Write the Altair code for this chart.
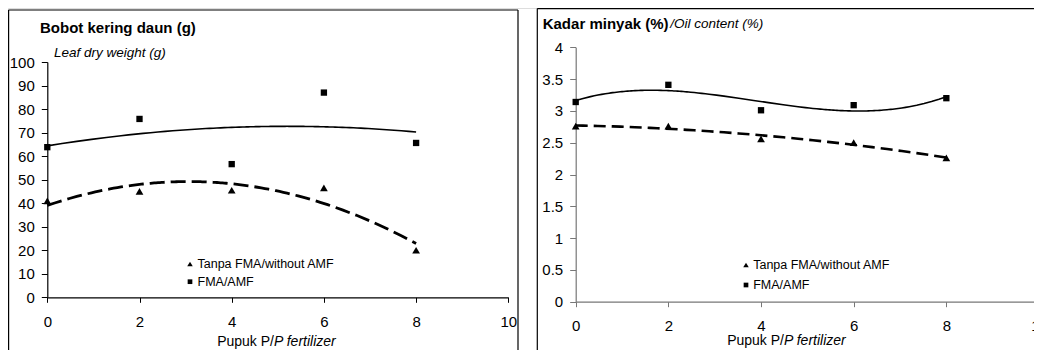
import altair as alt
import pandas as pd

FONT = "Liberation Sans"

# ---- data ----
dose = [0, 2, 4, 6, 8]
leaf_no_amf = [41.0, 45.0, 45.5, 46.5, 20.0]
leaf_amf = [63.8, 75.8, 56.6, 87.0, 65.6]
oil_no_amf = [2.76, 2.76, 2.56, 2.50, 2.26]
oil_amf = [3.14, 3.41, 3.01, 3.09, 3.20]

x_ticks = [0, 2, 4, 6, 8, 10]
leaf_ticks = [0, 10, 20, 30, 40, 50, 60, 70, 80, 90, 100]
oil_ticks = [0, 0.5, 1, 1.5, 2, 2.5, 3, 3.5, 4]

lab_no = "Tanpa FMA/without AMF"
lab_amf = "FMA/AMF"

leaf_df = pd.DataFrame({"x": dose * 2, "y": leaf_no_amf + leaf_amf,
                        "s": ["no"] * 5 + ["amf"] * 5})
oil_df = pd.DataFrame({"x": dose * 2, "y": oil_no_amf + oil_amf,
                       "s": ["no"] * 5 + ["amf"] * 5})
one = alt.Data(values=[{"a": 1}])

CW, CH = 1026, 342  # whole canvas (page minus its 8px margin)


def text(t, x, y, size, weight="normal", style="normal", align="left"):
    return alt.Chart(one).mark_text(text=t, font=FONT, fontSize=size, fontWeight=weight,
                                    fontStyle=style, align=align, baseline="middle",
                                    color="black").encode(x=alt.value(x), y=alt.value(y))


def vrule(x, y1, y2, color="black"):
    return alt.Chart(one).mark_rule(color=color, strokeWidth=1.2).encode(
        x=alt.value(x), y=alt.value(y1), y2=alt.value(y2))


def hrule(x1, x2, y, color="black"):
    return alt.Chart(one).mark_rule(color=color, strokeWidth=1.2).encode(
        x=alt.value(x1), x2=alt.value(x2), y=alt.value(y))


def sym(shape, x, y, size):
    return alt.Chart(one).mark_point(shape=shape, filled=True, size=size, color="black",
                                     opacity=1).encode(x=alt.value(x), y=alt.value(y))


def panel(df, xrange, ydom, yrange, yvals, fmt, axcolor, order_amf, dash, dwidth):
    xax = alt.Axis(values=x_ticks, grid=False, domainColor=axcolor, tickColor=axcolor,
                   labelColor="black", labelFont=FONT, labelFontSize=15, tickSize=5,
                   labelPadding=12, title=None, domainWidth=1.2, labelFlush=False,
                   orient="bottom", offset=yrange[0] - CH, labelOverlap=False)
    yax = alt.Axis(values=yvals, grid=False, domainColor=axcolor, tickColor=axcolor,
                   labelColor="black", labelFont=FONT, labelFontSize=15, tickSize=6,
                   labelPadding=7, title=None, format=fmt, domainWidth=1.2,
                   orient="left", offset=-xrange[0], labelOverlap=False)
    xs = alt.X("x:Q", scale=alt.Scale(domain=[0, 10], range=xrange, nice=False), axis=xax)
    ys = alt.Y("y:Q", scale=alt.Scale(domain=ydom, range=yrange, nice=False), axis=yax)
    base = alt.Chart(df)
    pts_no = base.transform_filter(alt.datum.s == "no").mark_point(
        shape="triangle-up", filled=True, size=60, color="black", opacity=1).encode(x=xs, y=ys)
    pts_amf = base.transform_filter(alt.datum.s == "amf").mark_point(
        shape="square", filled=True, size=40, color="black", opacity=1).encode(x=xs, y=ys)
    fit_no = base.transform_filter(alt.datum.s == "no").transform_regression(
        "x", "y", method="poly", order=2, extent=[0, 8]).mark_line(
        color="black", strokeWidth=dwidth, strokeDash=dash).encode(x=xs, y=ys)
    fit_amf = base.transform_filter(alt.datum.s == "amf").transform_regression(
        "x", "y", method="poly", order=order_amf, extent=[0, 8]).mark_line(
        color="black", strokeWidth=1.6).encode(x=xs, y=ys)
    return alt.layer(fit_no, fit_amf, pts_no, pts_amf)


# ---- left panel: leaf dry weight ----
left = panel(leaf_df, [39.3, 500.3], [0, 100], [289.3, 54], leaf_ticks, "d",
             "black", 2, [15, 6], 2.8)
left_deco = [
    vrule(0.6, 2, CH), hrule(0.6, 510, 2), vrule(510, 2, CH),
    text("Bobot kering daun (g)", 32, 19.5, 15, weight="bold"),
    text("Leaf dry weight (g)", 46, 45, 13.5, style="italic"),
    sym("triangle-up", 182, 256, 30), sym("square", 182, 273.7, 22),
    text(lab_no, 189.5, 256, 12.5), text(lab_amf, 189.5, 273.7, 12.5),
    text("Pupuk P/", 266, 333.5, 14, align="right"),
    text("P fertilizer", 266, 333.5, 14, style="italic"),
]

# ---- right panel: oil content ----
right = panel(oil_df, [567.7, 1031], [0, 4], [293.7, 39.3], oil_ticks, "~g",
              "#777777", 3, [12, 6], 2.6)
right_deco = [
    vrule(529.3, 0.6, CH), hrule(529.3, CW, 0.6),
    text("Kadar minyak (%)", 534.7, 16, 15, weight="bold"),
    text("/Oil content (%)", 662.2, 16, 13.5, style="italic"),
    sym("triangle-up", 738, 257, 30), sym("square", 738, 277, 22),
    text(lab_no, 745.2, 257, 12.5), text(lab_amf, 745.2, 277, 12.5),
    text("Pupuk P/", 776, 332.5, 14, align="right"),
    text("P fertilizer", 776, 332.5, 14, style="italic"),
]

chart = alt.layer(left, right, *left_deco, *right_deco).resolve_scale(
    x="independent", y="independent"
).resolve_axis(
    x="independent", y="independent"
).properties(
    width=CW, height=CH, padding=0,
    autosize=alt.AutoSizeParams(type="none"),
).configure_view(stroke=None).configure(background="white")

chart.save("out.html", embed_options={"renderer": "svg", "actions": False})
